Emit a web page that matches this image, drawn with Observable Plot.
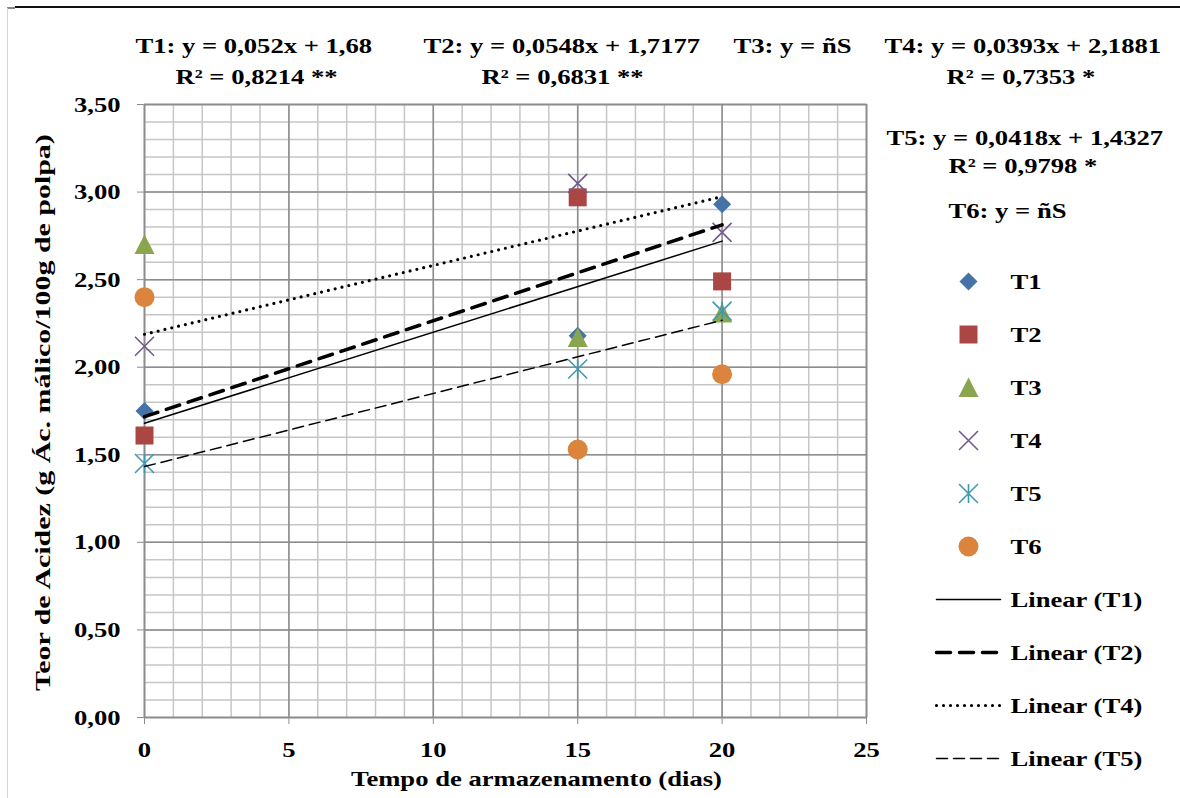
<!DOCTYPE html>
<html><head><meta charset="utf-8">
<script src="https://cdn.jsdelivr.net/npm/d3@7"></script>
<script src="https://cdn.jsdelivr.net/npm/@observablehq/plot@0.6"></script>
<style>
html,body{margin:0;padding:0;background:#fff;}
#wrap{position:relative;width:1180px;height:798px;overflow:hidden;background:#fff;}
#wrap svg{position:absolute;overflow:visible;}
.topline{position:absolute;left:15px;top:6px;width:1165px;height:2px;background:#111;}
.topline2{position:absolute;left:7px;top:7px;width:8px;height:2px;background:#888;}
.leftline{position:absolute;left:7px;top:8px;width:1px;height:790px;background:#d4d4d4;}
</style></head><body>
<div id="wrap"><div class="topline"></div><div class="topline2"></div><div class="leftline"></div></div>
<script>
// ---- data ----
const days = [0, 15, 20];
const seriesNames = ["T1", "T2", "T3", "T4", "T5", "T6"];
const T1 = [1.75, 2.18, 2.93];
const T2 = [1.61, 2.97, 2.49];
const T3 = [2.70, 2.17, 2.31];
const T4 = [2.12, 3.05, 2.77];
const T5 = [1.45, 1.99, 2.32];
const T6 = [2.40, 1.53, 1.96];
const seriesColors = ["#4572A7", "#AA4643", "#89A54E", "#71588F", "#4198AF", "#DB843D"];
const trendSeries = ["T1", "T2", "T4", "T5"];
const trendLabels = ["Linear (T1)", "Linear (T2)", "Linear (T4)", "Linear (T5)"];
const xTicks = [0, 5, 10, 15, 20, 25];
const yTicks = [0, 0.5, 1, 1.5, 2, 2.5, 3, 3.5];
const annotationTexts = [
  "T1: y = 0,052x + 1,68", "R² = 0,8214 **",
  "T2: y = 0,0548x + 1,7177", "R² = 0,6831 **",
  "T3: y = ñS",
  "T4: y = 0,0393x + 2,1881", "R² = 0,7353 *",
  "T5: y = 0,0418x + 1,4327", "R² = 0,9798 *",
  "T6: y = ñS"
];
const xLabel = "Tempo de armazenamento (dias)";
const yLabel = "Teor de Acidez (g Ác. málico/100g de polpa)";

const values = [T1, T2, T3, T4, T5, T6];
const rows = seriesNames.flatMap((s, i) => days.map((d, j) => ({series: s, day: d, value: values[i][j]})));

// ---- styles / layout ----
const FS = 22;          // font size
const STRETCH = 1.21;   // horizontal widening of lettering
const YLABEL_STRETCH = 1.36;
// pixel offsets of annotation lines relative to the frame's top-left corner
const annotLayout = [
  [-9, -59], [31, -28],
  [279, -59], [337, -28],
  [589, -59],
  [740, -59], [802, -28],
  [742, 33], [804, 61],
  [804, 106]
];
const sym = {
  diamond: {draw(c, s) { const h = Math.sqrt(s / Math.PI); c.moveTo(0, -h); c.lineTo(h, 0); c.lineTo(0, h); c.lineTo(-h, 0); c.closePath(); }},
  square: {draw(c, s) { const h = Math.sqrt(s / Math.PI); c.rect(-h, -h, 2 * h, 2 * h); }},
  triangle: {draw(c, s) { const h = Math.sqrt(s / Math.PI); c.moveTo(0, -h); c.lineTo(h, h * 0.95); c.lineTo(-h, h * 0.95); c.closePath(); }},
  times: {draw(c, s) { const h = Math.sqrt(s / Math.PI); c.moveTo(-h, -h); c.lineTo(h, h); c.moveTo(h, -h); c.lineTo(-h, h); }},
  star: {draw(c, s) { const h = Math.sqrt(s / Math.PI); c.moveTo(-h, -h); c.lineTo(h, h); c.moveTo(h, -h); c.lineTo(-h, h); c.moveTo(0, -h); c.lineTo(0, h); }},
  circle: {draw(c, s) { const h = Math.sqrt(s / Math.PI); c.moveTo(h, 0); c.arc(0, 0, h, 0, 2 * Math.PI); }}
};
const markerStyle = [
  {symbol: sym.diamond, r: 9, filled: true},
  {symbol: sym.square, r: 9, filled: true},
  {symbol: sym.triangle, r: 10, filled: true},
  {symbol: sym.times, r: 9.5, filled: false},
  {symbol: sym.star, r: 9.5, filled: false},
  {symbol: sym.circle, r: 10, filled: true}
];
const lineStyle = [
  {strokeWidth: 1.5},
  {strokeWidth: 3.5, strokeDasharray: "14,9"},
  {strokeWidth: 3.2, strokeDasharray: "0,7", strokeLinecap: "round"},
  {strokeWidth: 1.5, strokeDasharray: "11,6"}
];
function dotOpts(i) {
  const m = markerStyle[i];
  return m.filled
    ? {symbol: m.symbol, r: m.r, fill: seriesColors[i], stroke: "none"}
    : {symbol: m.symbol, r: m.r, fill: "none", stroke: seriesColors[i], strokeWidth: 1.6};
}
const commaFmt = d => d3.format(".2f")(d).replace(".", ",");
const font = {fontFamily: "'Liberation Serif', 'Times New Roman', serif", fontSize: FS + "px", fontWeight: "bold", color: "black", background: "transparent"};
const txt = {fontSize: FS, fontWeight: "bold", fill: "black", lineAnchor: "middle"};

const main = Plot.plot({
  width: 1180, height: 798,
  marginLeft: 144, marginRight: 314, marginTop: 104, marginBottom: 81,
  style: font,
  x: {domain: [0, 25], ticks: xTicks, tickSize: 7, tickPadding: 17, label: null, tickFormat: d => String(d)},
  y: {domain: [0, 3.5], ticks: yTicks, tickSize: 7, tickPadding: 17, label: null, tickFormat: commaFmt},
  marks: [
    Plot.ruleX(d3.range(26), {stroke: "#c6c6c6", strokeWidth: 1.5}),
    Plot.ruleY(d3.range(36).map(i => i / 10), {stroke: "#c6c6c6", strokeWidth: 1.5}),
    Plot.ruleX(xTicks, {stroke: "#8c8c8c", strokeWidth: 1.5}),
    Plot.ruleY(yTicks, {stroke: "#8c8c8c", strokeWidth: 1.5}),
    Plot.frame({stroke: "#8c8c8c", strokeWidth: 1.5}),
    ...seriesNames.map((s, i) => Plot.dot(rows.filter(d => d.series === s), {x: "day", y: "value", ...dotOpts(i)})),
    ...trendSeries.map((s, i) => Plot.linearRegressionY(rows.filter(d => d.series === s), {x: "day", y: "value", ci: 0, stroke: "black", ...lineStyle[i]})),
    ...annotationTexts.map((t, i) => Plot.text([t], {text: d => d, frameAnchor: "top-left", dx: annotLayout[i][0], dy: annotLayout[i][1], textAnchor: "start", ...txt})),
    Plot.text([xLabel], {text: d => d, frameAnchor: "bottom", dx: 31, dy: 61, ...txt}),
    Plot.text([yLabel], {text: d => d, frameAnchor: "left", rotate: -90, dx: -102, dy: 280, textAnchor: "start", ...txt})
  ]
});
main.style.left = "0px"; main.style.top = "0px";

// ---- legend (its own small plot) ----
const legendLabels = [...seriesNames, ...trendLabels];
const legend = Plot.plot({
  width: 280, height: 545,
  margin: 0,
  style: font,
  x: {domain: [0, 1], range: [36, 100], axis: null},
  y: {type: "point", domain: legendLabels, range: [27, 506], padding: 0, axis: null},
  marks: [
    ...seriesNames.map((s, i) => Plot.dot([s], {x: () => 0.5, y: d => d, ...dotOpts(i)})),
    ...trendLabels.map((lab, i) => Plot.line([0, 1], {x: d => d, y: () => lab, stroke: "black", ...lineStyle[i]})),
    Plot.text(legendLabels, {x: () => 1, y: d => d, text: d => d, dx: 10, textAnchor: "start", ...txt})
  ]
});
legend.style.left = "900px"; legend.style.top = "253px";

const wrap = document.getElementById("wrap");
wrap.appendChild(main);
wrap.appendChild(legend);

// tick marks grey
document.querySelectorAll('[aria-label="x-axis tick"],[aria-label="y-axis tick"]').forEach(g => g.setAttribute("stroke", "#8c8c8c"));
// widen glyphs to match the reference's horizontally stretched lettering
document.querySelectorAll("#wrap svg text").forEach(t => {
  if (t.querySelector("tspan")) return;
  const w = t.getComputedTextLength();
  if (w > 0) {
    const k = t.textContent === yLabel ? YLABEL_STRETCH : STRETCH;
    t.setAttribute("textLength", (w * k).toFixed(1));
    t.setAttribute("lengthAdjust", "spacingAndGlyphs");
  }
});
</script>
</body></html>
